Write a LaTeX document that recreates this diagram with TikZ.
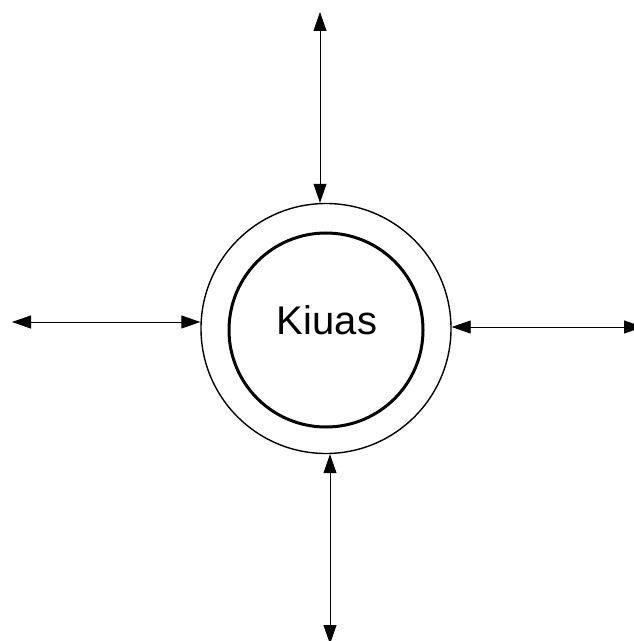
\documentclass[tikz,border=0pt]{standalone}
\usepackage{fontspec}
\setmainfont{Liberation Sans}
\usetikzlibrary{arrows.meta}

\begin{document}
\begin{tikzpicture}[
	x=1bp, y=-1bp,
	ring/.style={draw, circle, inner sep=0pt, line width=1.4bp},
	core/.style={draw, circle, inner sep=0pt, line width=3bp},
	arrow/.style={<->, >={Triangle[length=19bp,width=13bp]}, line width=0.9bp}
]
\useasboundingbox (0,0) rectangle (634,641);

\node[ring, minimum size=250bp] (outer) at (326,328.5) {};
\node[core, minimum size=194bp] (inner) at (326,330) {};
\node[font=\fontsize{40bp}{48bp}\selectfont] (label) at (327,320) {Kiuas};

\coordinate (topend) at (320,12);
\coordinate (bottomend) at (330,644);
\coordinate (leftend) at (12,322);
\coordinate (rightend) at (643,327);

\draw[arrow] (topend) -- (topend |- outer.north);
\draw[arrow] (bottomend |- outer.south) -- (bottomend);
\draw[arrow] (leftend) -- (leftend -| outer.west);
\draw[arrow] (rightend -| outer.east) -- (rightend);
\end{tikzpicture}
\end{document}
